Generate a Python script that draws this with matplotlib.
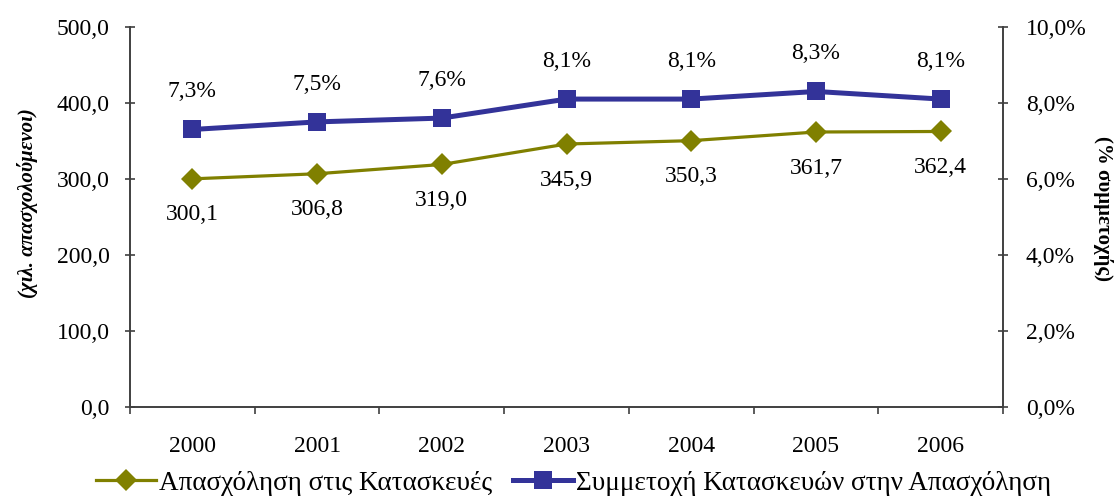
import matplotlib.pyplot as plt
from matplotlib.ticker import FuncFormatter

plt.rcParams['font.family'] = ['Liberation Serif', 'DejaVu Serif']

years = ['2000', '2001', '2002', '2003', '2004', '2005', '2006']
employment = [300.1, 306.8, 319.0, 345.9, 350.3, 361.7, 362.4]
share = [7.3, 7.5, 7.6, 8.1, 8.1, 8.3, 8.1]

olive = '#808000'
blue = '#333399'
spine_c = '#404040'
fs = 17

fig = plt.figure(figsize=(11.18, 4.97), dpi=100)
ax = fig.add_axes([0.1163, 0.181, 0.7809, 0.765])
ax2 = ax.twinx()

x = list(range(len(years)))
l1, = ax.plot(x, employment, color=olive, lw=2.3, marker='D', ms=11, mew=0,
              label='Απασχόληση στις Κατασκευές')
l2, = ax2.plot(x, share, color=blue, lw=3.6, marker='s', ms=12.5, mew=0,
               label='Συμμετοχή Κατασκευών στην Απασχόληση')

for xi, v in zip(x, employment):
    ax.annotate(f'{v:.1f}'.replace('.', ','), (xi, v), xytext=(0, -26), textcoords='offset points',
                ha='center', va='center', fontsize=fs)
for xi, v in zip(x, share):
    ax2.annotate(f'{v:.1f}%'.replace('.', ','), (xi, v), xytext=(0, 27), textcoords='offset points',
                 ha='center', va='center', fontsize=fs)

ax.set_xlim(-0.5, len(years) - 0.5)
ax.set_ylim(0, 500)
ax2.set_ylim(0, 10)
ax.set_yticks(range(0, 501, 100))
ax2.set_yticks(range(0, 11, 2))
ax.yaxis.set_major_formatter(FuncFormatter(lambda v, p: f'{v:.1f}'.replace('.', ',')))
ax2.yaxis.set_major_formatter(FuncFormatter(lambda v, p: f'{v:.1f}%'.replace('.', ',')))

ax.set_xticks(x)
ax.set_xticklabels(years)
ax.set_xticks([i - 0.5 for i in range(len(years) + 1)], minor=True)
ax.tick_params(axis='x', which='major', length=0, labelsize=fs, pad=21)
ax.tick_params(axis='x', which='minor', length=5, color=spine_c, width=1.2, direction='out')
ax.tick_params(axis='y', length=7, color=spine_c, width=1.2, direction='inout', labelsize=fs, pad=11)
ax2.tick_params(axis='y', length=7, color=spine_c, width=1.2, direction='inout', labelsize=fs, pad=13)

for a in (ax, ax2):
    a.spines['top'].set_visible(False)
    for s in ('left', 'right', 'bottom'):
        a.spines[s].set_color(spine_c)
        a.spines[s].set_linewidth(1.2)

fig.text(0.025, 0.591, '(χιλ. απασχολούμενοι)', rotation=90, ha='center', va='center',
         fontsize=15, fontweight='bold', fontstyle='italic')
fig.text(0.987, 0.580, '(% συμμετοχής)', rotation=-90, ha='center', va='center',
         fontsize=15, fontweight='bold')

fig.legend(handles=[l1, l2], loc='center', bbox_to_anchor=(0.513, 0.028), ncol=2, frameon=False,
           fontsize=19.5, handlelength=2.2, handletextpad=0.1, columnspacing=0.8,
           borderpad=0, borderaxespad=0)

fig.savefig('out.png', dpi=100)
